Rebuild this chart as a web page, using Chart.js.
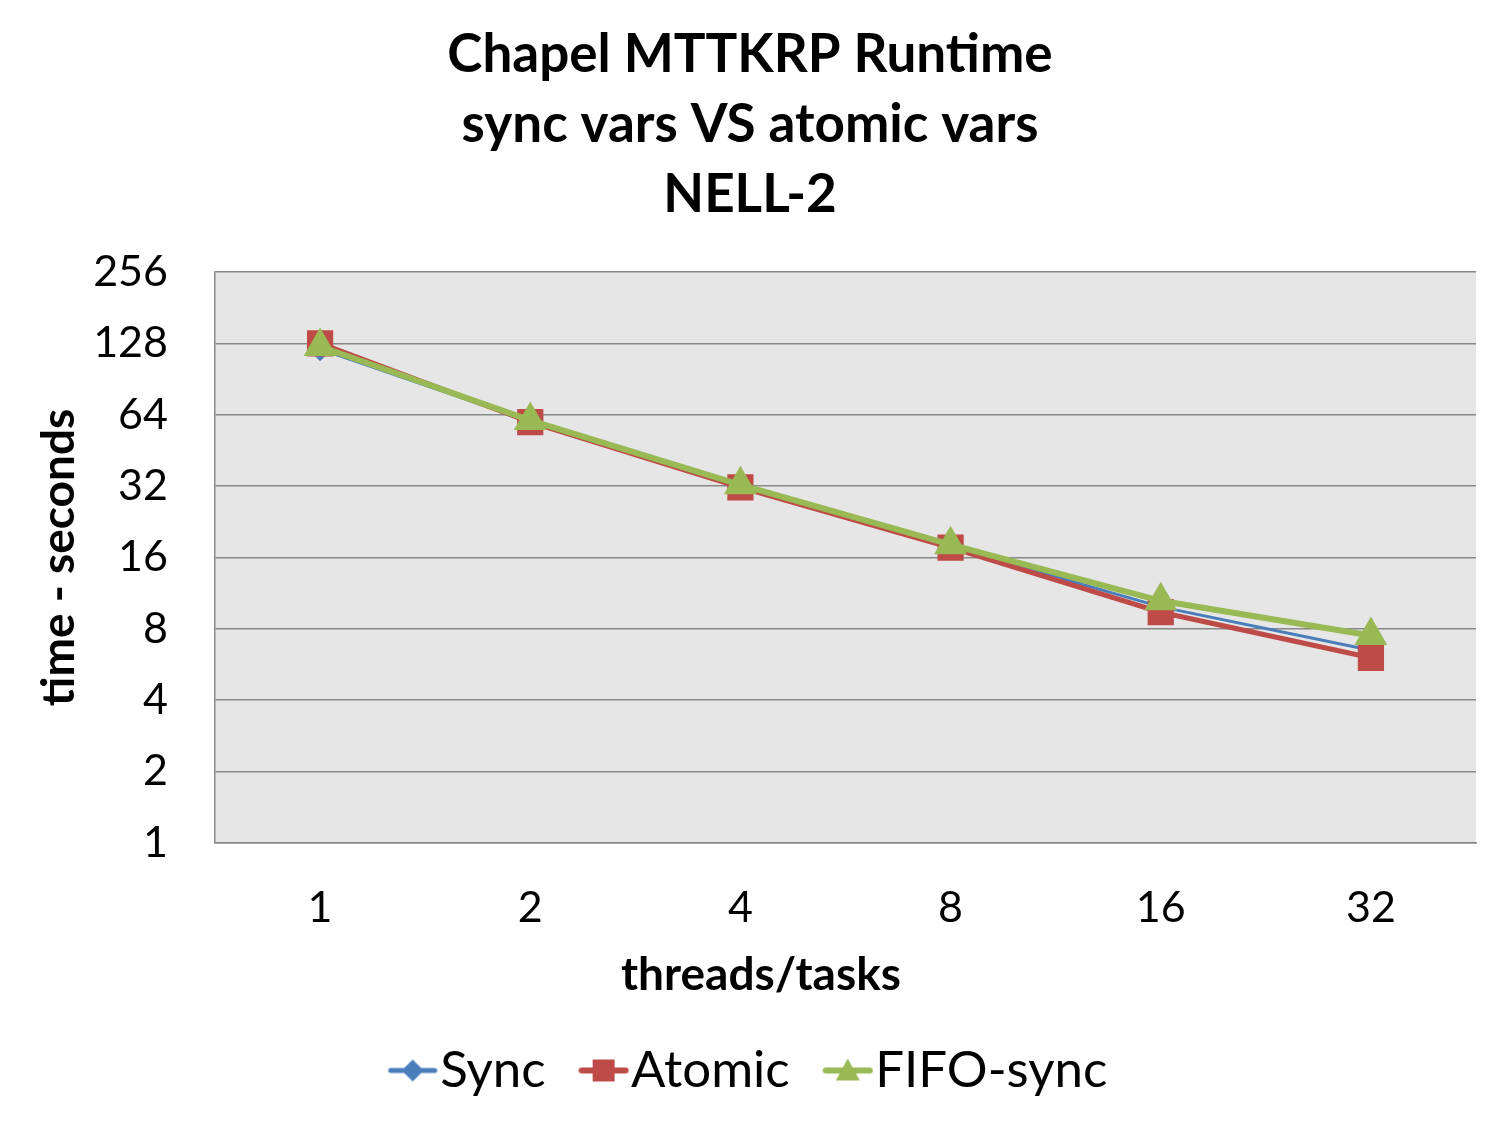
<!DOCTYPE html>
<html>
<head>
<meta charset="utf-8">
<script src="https://cdn.jsdelivr.net/npm/chart.js@4.4.1/dist/chart.umd.min.js"></script>
<style>
  html, body { margin: 0; padding: 0; background: #fff; }
  #wrap { width: 1500px; height: 1125px; }
</style>
</head>
<body>
<div id="wrap"><canvas id="chart" width="1500" height="1125"></canvas></div>
<script>
// data
const threads = ["1", "2", "4", "8", "16", "32"];
const syncTimes = [121, 60, 31.8, 17.8, 9.9, 6.5];
const atomicTimes = [128, 59.5, 31.6, 17.6, 9.4, 6.04];
const fifoTimes = [124, 60.5, 32.4, 18.1, 10.5, 7.5];
const yTicks = [1, 2, 4, 8, 16, 32, 64, 128, 256];

const FONT = "Lato, 'Open Sans', sans-serif";
const blue = "#4a7ebb", red = "#be4b48", green = "#98b954";

// legend swatch: short line with the marker on it.
// the image is centred on the legend box, so the drawing is pushed right
function swatch(color, shape, lw) {
  const c = document.createElement("canvas");
  c.width = 130; c.height = 30;
  const g = c.getContext("2d");
  const x0 = 52, x1 = 96, mx = 74, my = 15;
  g.strokeStyle = color; g.lineWidth = lw; g.lineCap = "round";
  g.beginPath(); g.moveTo(x0, my); g.lineTo(x1, my); g.stroke();
  g.fillStyle = color;
  g.beginPath();
  if (shape === "diamond") {
    g.moveTo(mx, my - 11); g.lineTo(mx + 11, my); g.lineTo(mx, my + 11); g.lineTo(mx - 11, my);
  } else if (shape === "square") {
    g.rect(mx - 11, my - 11, 22, 22);
  } else {
    g.moveTo(mx, my - 12); g.lineTo(mx + 12, my + 10); g.lineTo(mx - 12, my + 10);
  }
  g.closePath(); g.fill();
  return c;
}

const plotBg = {
  id: "plotBg",
  beforeDraw(chart) {
    const { ctx, chartArea: a } = chart;
    ctx.save();
    ctx.fillStyle = "#e6e6e6";
    ctx.fillRect(a.left, a.top, a.right - a.left, a.bottom - a.top);
    ctx.restore();
  }
};

// x axis title is centred on the whole figure, not on the plot area
const xTitle = {
  id: "xTitle",
  afterDraw(chart) {
    const sc = chart.scales.x;
    const { ctx } = chart;
    ctx.save();
    ctx.font = "bold 46px " + FONT;
    ctx.fillStyle = "#000";
    ctx.textAlign = "center";
    ctx.textBaseline = "middle";
    ctx.fillText("threads/tasks", chart.width / 2 + 11, sc.top + 132);
    ctx.restore();
  }
};

const ctx = document.getElementById("chart").getContext("2d");
new Chart(ctx, {
  type: "line",
  data: {
    labels: threads,
    datasets: [
      { label: "Sync", data: syncTimes, borderColor: blue, backgroundColor: blue, order: 2,
        borderWidth: 3, pointStyle: "rectRot", pointRadius: 10, legendImg: swatch(blue, "diamond", 5) },
      { label: "Atomic", data: atomicTimes, borderColor: red, backgroundColor: red, order: 1,
        borderWidth: 5, pointStyle: "rect", pointRadius: 15, legendImg: swatch(red, "square", 6) },
      { label: "FIFO-sync", data: fifoTimes, borderColor: green, backgroundColor: green, order: 0,
        borderWidth: 6, pointStyle: "triangle", pointRadius: 13, legendImg: swatch(green, "triangle", 6) }
    ]
  },
  options: {
    responsive: false,
    animation: false,
    layout: { padding: { left: 24, right: 24, top: 10, bottom: 19 } },
    plugins: {
      title: {
        display: true,
        text: ["Chapel MTTKRP Runtime", "sync vars VS atomic vars", "NELL-2"],
        color: "#000",
        font: { family: FONT, size: 53, weight: "bold", lineHeight: 1.32 },
        padding: { top: 10, bottom: 42 }
      },
      legend: {
        position: "bottom",
        labels: {
          color: "#000",
          font: { family: FONT, size: 51 },
          usePointStyle: true,
          pointStyleWidth: 22,
          padding: 38,
          generateLabels(chart) {
            return chart.data.datasets.map((ds, i) => ({
              text: ds.label,
              pointStyle: ds.legendImg,
              fillStyle: ds.borderColor,
              strokeStyle: ds.borderColor,
              lineWidth: 0,
              fontColor: "#000",
              datasetIndex: i,
              hidden: false
            }));
          }
        }
      },
      tooltip: { enabled: false }
    },
    scales: {
      x: {
        type: "category",
        offset: true,
        afterFit(scale) { scale.height = 164; },
        grid: { display: false, drawTicks: false },
        border: { color: "#888", width: 1.5 },
        ticks: { color: "#000", font: { family: FONT, size: 43 }, padding: 39 }
      },
      y: {
        type: "logarithmic",
        min: 1,
        max: 256,
        afterBuildTicks(axis) { axis.ticks = yTicks.map(v => ({ value: v })); },
        afterFit(scale) { scale.width = 191; },
        grid: { color: "#888", lineWidth: 1.5, drawTicks: false },
        border: { color: "#888", width: 1.5 },
        ticks: { color: "#000", font: { family: FONT, size: 43 }, padding: 47,
                 callback: v => String(v) },
        title: { display: true, text: "time - seconds", color: "#000",
                 font: { family: FONT, size: 46, weight: "bold" }, padding: { top: 8, bottom: 0 } }
      }
    }
  },
  plugins: [plotBg, xTitle]
});
</script>
</body>
</html>
